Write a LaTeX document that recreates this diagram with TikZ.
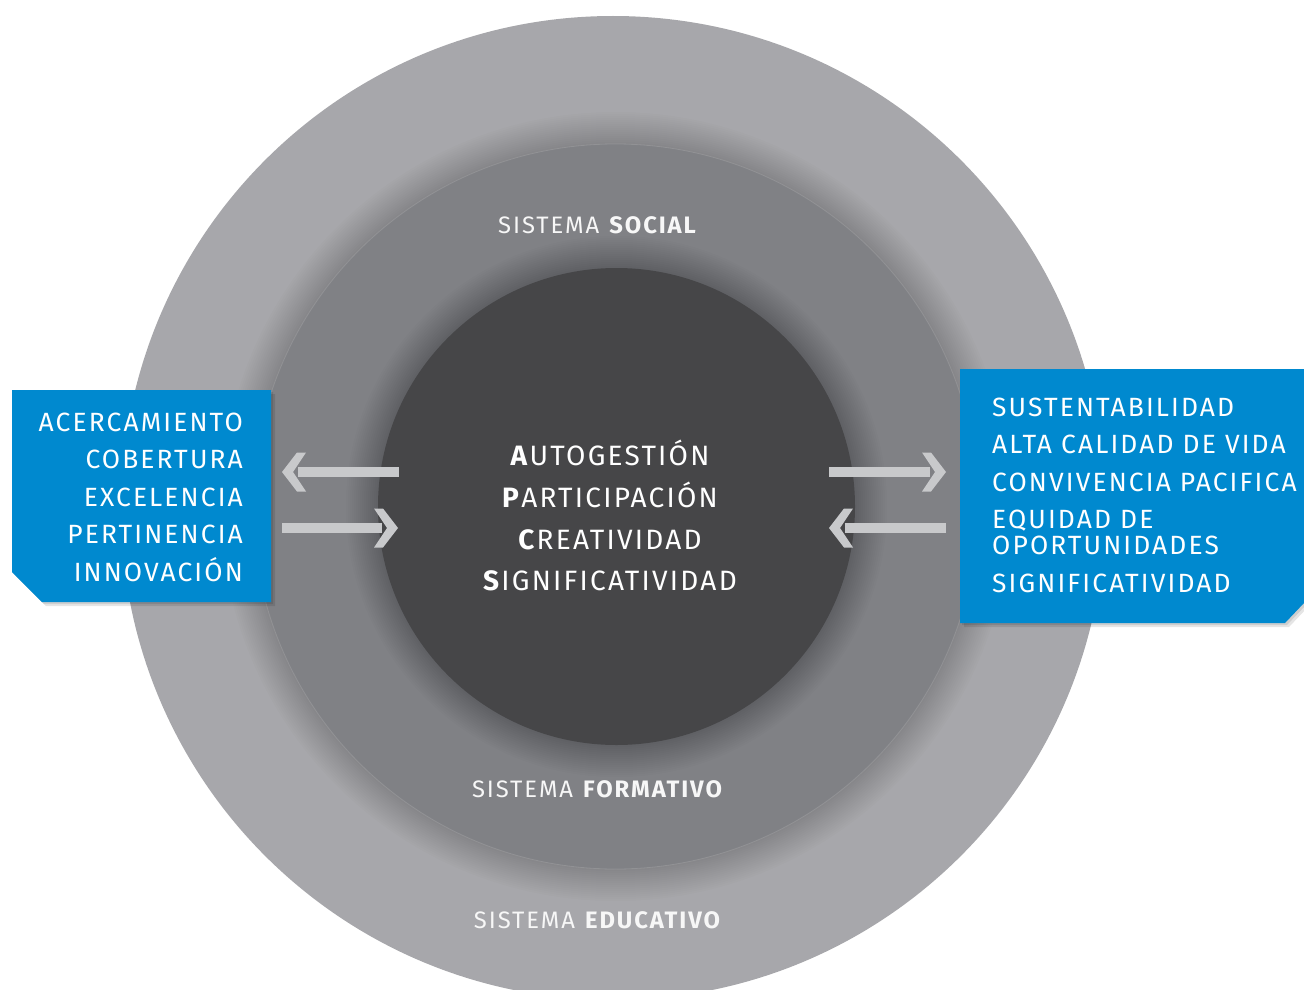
\documentclass[tikz,border=0pt]{standalone}
\usepackage{fontspec}
\newfontfamily\dinf{Fira Sans}[LetterSpace=8.0]
\definecolor{ringout}{HTML}{A7A7AB}
\definecolor{ringmid}{HTML}{808185}
\definecolor{core}{HTML}{464648}
\definecolor{boxblue}{HTML}{0089CF}
\definecolor{arrowgray}{HTML}{C8C9CB}
\newcommand\chevarrow[3]{%
  \begin{scope}[shift={(#1)}, xscale=#2]
    \fill[arrowgray] (0,0) -- (-15,-19.5) -- (-24,-19.5) -- (-11,0) -- (-24,19.5) -- (-15,19.5) -- cycle;
    \fill[arrowgray] (-16,-5) rectangle (-#3,5);
  \end{scope}}
\begin{document}
\begin{tikzpicture}[x=1pt,y=-1pt,
  ring/.style={circle, inner sep=0pt, outer sep=0pt},
  syslbl/.style={text=white!94!gray, inner sep=0pt, anchor=base, font=\dinf\fontsize{23.8}{26}\selectfont},
  corelbl/.style={text=white, inner sep=0pt, anchor=base, font=\dinf\fontsize{28}{30}\selectfont},
  boxlbl/.style={text=white, inner sep=0pt, font=\dinf\fontsize{26.4}{28}\selectfont},
  boxshadow/.style={fill=black, opacity=0.10}]
\useasboundingbox (0,0) rectangle (1304,990);
\clip (0,0) rectangle (1304,990);
% rings
\node[ring, fill=ringout, minimum size=984pt] (outer) at (613,508) {};
\foreach \k in {1,...,16} \fill[black, opacity=0.011] (615.5,506.5) circle ({362.5+2*\k});
\node[ring, fill=ringmid, minimum size=725pt] (middle) at (615.5,506.5) {};
\draw[white, opacity=0.12, line width=0.8pt] (615.5,506.5) circle (362.5);
\foreach \k in {1,...,16} \fill[black, opacity=0.012] (616.5,506.5) circle ({238.5+2*\k});
\node[ring, fill=core, minimum size=477pt] (core) at (616.5,506.5) {};
% ring labels
\node[syslbl] (social) at (598,233) {SISTEMA \textbf{SOCIAL}};
\node[syslbl] (formativo) at (598,797) {SISTEMA \textbf{FORMATIVO}};
\node[syslbl] (educativo) at (598,928) {SISTEMA \textbf{EDUCATIVO}};
% core labels
\node[corelbl] (c1) at (610,465.7) {\textbf{A}UTOGESTIÓN};
\node[corelbl] (c2) at (610,507.3) {\textbf{P}ARTICIPACIÓN};
\node[corelbl] (c3) at (610,549.3) {\textbf{C}REATIVIDAD};
\node[corelbl] (c4) at (610,590) {\textbf{S}IGNIFICATIVIDAD};
% left box
\foreach \d in {2,4} \fill[boxshadow] ([shift={(\d,\d)}]12,390) -- ++(259,0) -- ++(0,212) -- ++(-229,0) -- ++(-30,-30) -- cycle;
\fill[boxblue] (12,390) -- (271,390) -- (271,602) -- (42,602) -- (12,572) -- cycle;
\node[boxlbl, anchor=base east] (l1) at (243,431) {ACERCAMIENTO};
\node[boxlbl, anchor=base east] (l2) at (243,468) {COBERTURA};
\node[boxlbl, anchor=base east] (l3) at (243,506) {EXCELENCIA};
\node[boxlbl, anchor=base east] (l4) at (243,543) {PERTINENCIA};
\node[boxlbl, anchor=base east] (l5) at (243,581) {INNOVACIÓN};
% right box
\foreach \d in {2,4} \fill[boxshadow] ([shift={(\d,\d)}]960,369) -- ++(344,0) -- ++(0,234) -- ++(-19,20) -- ++(-325,0) -- cycle;
\fill[boxblue] (960,369) -- (1304,369) -- (1304,603) -- (1285,623) -- (960,623) -- cycle;
\node[boxlbl, anchor=base west] (r1) at (992,416) {SUSTENTABILIDAD};
\node[boxlbl, anchor=base west] (r2) at (992,453) {ALTA CALIDAD DE VIDA};
\node[boxlbl, anchor=base west] (r3) at (992,491) {CONVIVENCIA PACIFICA};
\node[boxlbl, anchor=base west] (r4) at (992,528) {EQUIDAD DE};
\node[boxlbl, anchor=base west] (r5) at (992,554) {OPORTUNIDADES};
\node[boxlbl, anchor=base west] (r6) at (992,592) {SIGNIFICATIVIDAD};
% arrows
\coordinate (t1) at (282,472);
\coordinate (t2) at (398,528);
\coordinate (t3) at (946,472);
\coordinate (t4) at (829,528);
\chevarrow{t1}{-1}{117}
\chevarrow{t2}{1}{116}
\chevarrow{t3}{1}{117}
\chevarrow{t4}{-1}{117}
\end{tikzpicture}
\end{document}
